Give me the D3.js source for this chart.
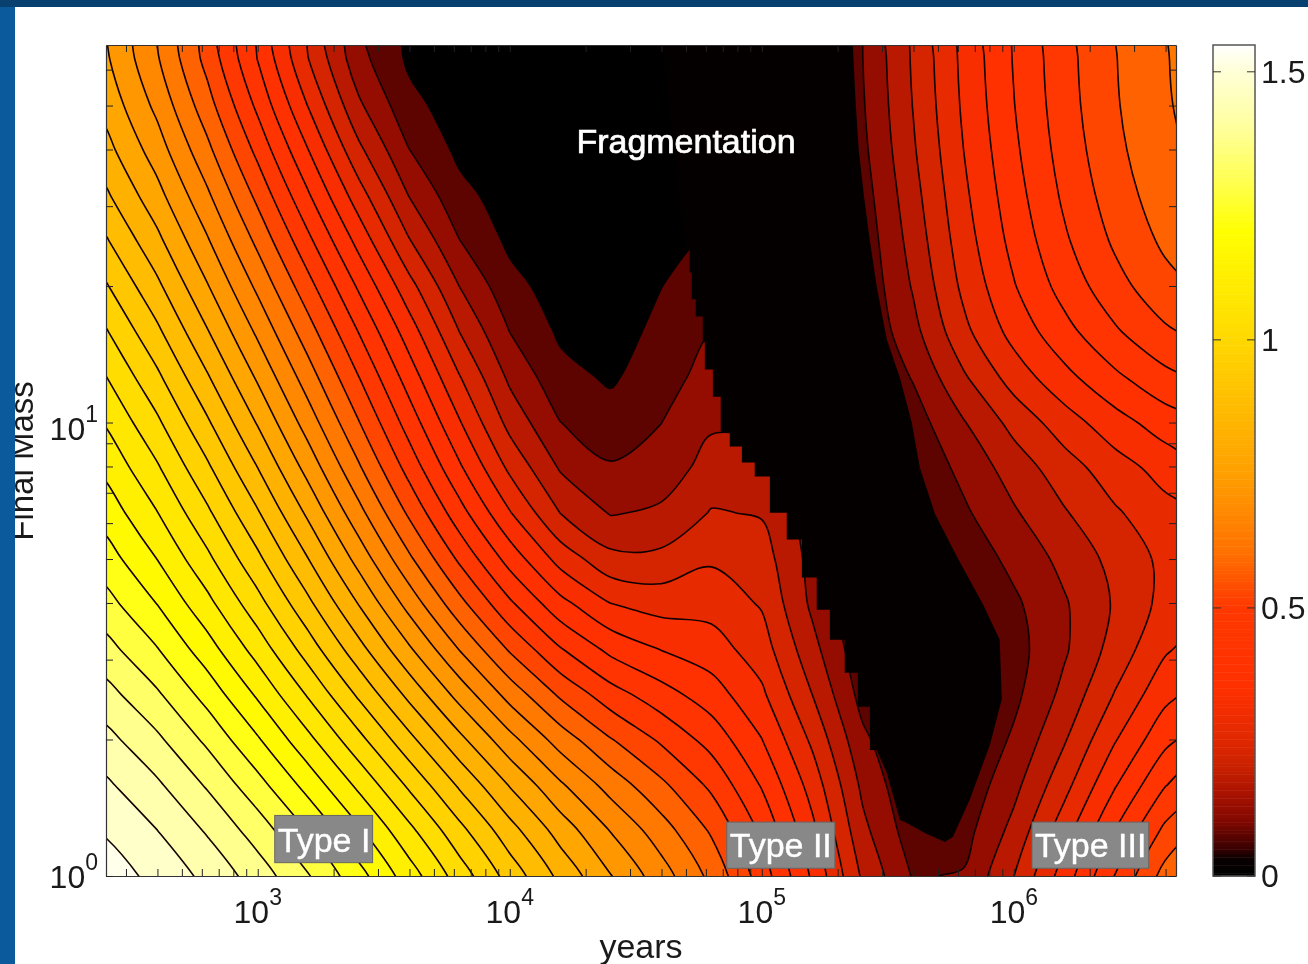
<!DOCTYPE html>
<html>
<head>
<meta charset="utf-8">
<script src="https://cdn.jsdelivr.net/npm/d3@7"></script>
<style>
  html, body { margin: 0; padding: 0; background: #fff; overflow: hidden; }
  text { font-family: "Liberation Sans", Arial, sans-serif; fill: #1a1a1a; }
  svg { filter: blur(0.6px); display: block; }
</style>
</head>
<body>
<div id="target"></div>
<script>
// grid of the field: log10(years) along the columns, log10(mass) along the rows (top row first)
const logYears = [2.2, 2.4, 2.6, 2.8, 3.0, 3.2, 3.4, 3.6, 3.8, 4.0, 4.2, 4.4, 4.6, 4.8, 5.0, 5.2, 5.4, 5.6, 5.8, 6.0, 6.2, 6.4, 6.6, 6.8];
const logMass = [1.9, 1.8, 1.7, 1.6, 1.5, 1.4, 1.3, 1.2, 1.1, 1.0, 0.9, 0.8, 0.7, 0.6, 0.5, 0.4, 0.3, 0.2, 0.1, 0.0, -0.1];

const field = [
  [.86,.75,.62,.50,.36,.20,.07,.01,.01,.01,.02,.02,.02,.02,.02,.02,.08,.21,.325,.42,.49,.555,.605,.65],
  [.88,.77,.665,.537,.40,.24,.085,.01,.01,.01,.02,.02,.02,.02,.02,.02,.08,.21,.325,.42,.495,.56,.61,.66],
  [.89,.79,.70,.576,.44,.285,.14,.04,.01,.01,.02,.02,.02,.02,.02,.02,.073,.205,.32,.415,.49,.56,.61,.66],
  [.92,.815,.74,.63,.495,.35,.20,.08,.01,.01,.02,.02,.02,.02,.02,.02,.065,.20,.31,.405,.48,.555,.60,.65],
  [.96,.86,.78,.675,.54,.415,.265,.13,.05,.01,.02,.02,.02,.02,.02,.02,.045,.185,.30,.39,.465,.545,.59,.64],
  [1.02,.915,.82,.715,.59,.47,.33,.19,.08,.01,.01,.02,.02,.10,.02,.02,.03,.175,.29,.38,.455,.52,.575,.63],
  [1.08,.97,.865,.755,.64,.525,.40,.265,.14,.05,.01,.01,.04,.12,.02,.02,.025,.155,.275,.365,.435,.48,.55,.61],
  [1.13,1.02,.91,.805,.695,.58,.465,.335,.185,.08,.02,.01,.055,.125,.10,.02,.02,.135,.26,.35,.42,.47,.52,.58],
  [1.17,1.065,.97,.86,.745,.62,.50,.38,.25,.125,.05,.0,.075,.145,.14,.02,.02,.09,.195,.29,.34,.40,.45,.50],
  [1.20,1.11,1.03,.91,.80,.675,.55,.43,.305,.16,.08,.045,.09,.165,.18,.03,.02,.055,.145,.21,.27,.32,.37,.42],
  [1.23,1.145,1.08,.965,.855,.74,.60,.475,.35,.23,.12,.085,.11,.18,.19,.12,.02,.04,.11,.17,.22,.27,.31,.35],
  [1.28,1.185,1.112,1.02,.915,.805,.65,.52,.405,.29,.175,.105,.125,.235,.22,.13,.02,.03,.10,.145,.20,.25,.285,.31],
  [1.31,1.22,1.155,1.065,.97,.865,.745,.605,.48,.365,.26,.18,.185,.28,.27,.13,.02,.02,.055,.115,.16,.205,.26,.29],
  [1.35,1.27,1.215,1.115,1.02,.915,.80,.68,.56,.45,.35,.285,.25,.32,.29,.10,.02,.02,.03,.085,.135,.195,.26,.31],
  [1.39,1.325,1.27,1.185,1.075,.975,.86,.75,.64,.525,.41,.345,.33,.34,.32,.16,.03,.02,.02,.07,.125,.21,.30,.36],
  [1.44,1.38,1.31,1.25,1.15,1.045,.945,.845,.73,.64,.525,.455,.40,.385,.35,.20,.03,.02,.02,.07,.16,.245,.345,.43],
  [1.48,1.445,1.375,1.295,1.22,1.12,1.02,.92,.815,.715,.635,.55,.49,.455,.39,.24,.09,.02,.02,.10,.19,.295,.395,.50],
  [1.52,1.475,1.425,1.36,1.275,1.18,1.09,.995,.895,.79,.705,.625,.56,.50,.45,.295,.115,.02,.035,.135,.22,.34,.45,.58],
  [1.55,1.50,1.465,1.415,1.34,1.26,1.17,1.07,.97,.87,.775,.695,.63,.57,.49,.31,.14,.02,.05,.16,.27,.395,.52,.68],
  [1.58,1.53,1.49,1.44,1.40,1.335,1.24,1.14,1.04,.945,.85,.755,.69,.625,.53,.35,.175,.06,.07,.195,.325,.46,.60,.75],
  [1.60,1.57,1.54,1.50,1.45,1.38,1.30,1.20,1.10,1.00,.90,.80,.73,.66,.55,.38,.20,.07,.09,.23,.38,.52,.66,.80]
];

// levels that get a black line
const lineLevels = [.1, .15, .2, .25, .3, .35, .4, .45, .5, .55, .6, .65, .7, .75, .8, .85, .9, .95, 1, 1.05, 1.1, 1.15, 1.2, 1.25, 1.3, 1.35, 1.4, 1.45, 1.5];

// colormap
const colorValues = [0, .03, .05, .1, .15, .2, .25, .3, .35, .5, .6, .75, 1, 1.2, 1.3, 1.4, 1.5, 1.55];
const colorHex = ["#000000", "#0a0000", "#3a0000", "#800800", "#a81200", "#c82000", "#e02800", "#f02c00", "#ff3000", "#ff3800", "#ff7000", "#ffa000", "#ffd800", "#ffff00", "#ffff55", "#ffffa0", "#ffffd8", "#ffffff"];

// edge of the fragmentation region, stepped on the left
const fragLogYears = [4.595, 4.687, 4.706, 4.714, 4.714, 4.722, 4.722, 4.738, 4.738, 4.766, 4.766, 4.774, 4.774, 4.806, 4.806, 4.837, 4.837, 4.873, 4.873, 4.921, 4.921, 4.972, 4.972, 5.032, 5.032, 5.099, 5.099, 5.159, 5.159, 5.218, 5.218, 5.270, 5.270, 5.329, 5.329, 5.381, 5.381, 5.429, 5.429, 5.456, 5.496, 5.548, 5.575, 5.647, 5.726, 5.758, 5.825, 5.905, 5.952, 5.944, 5.877, 5.778, 5.687, 5.627, 5.595, 5.548, 5.496, 5.456, 5.429, 5.405, 5.385, 5.373, 5.361, 5.36, 4.595];
const fragLogMass = [1.9, 1.426, 1.382, 1.382, 1.331, 1.331, 1.272, 1.272, 1.234, 1.234, 1.177, 1.177, 1.117, 1.117, 1.057, 1.057, .978, .978, .947, .947, .912, .912, .881, .881, .801, .801, .742, .742, .658, .658, .587, .587, .521, .521, .448, .448, .373, .373, .278, .278, .227, .124, .117, .095, .075, .086, .168, .289, .389, .521, .600, .700, .799, .901, 1.0, 1.099, 1.183, 1.300, 1.400, 1.501, 1.600, 1.700, 1.834, 1.9, 1.9];

const xDomain = [250, 4.4e6];
const yDomain = [1, 68];
const xLabelExps = [3, 4, 5, 6];
const yLabelExps = [0, 1];
const yLabelDrop = [12, 17];
const barTicks = [0, .5, 1, 1.5];
const barLabels = ["0", "0.5", "1", "1.5"];
const typeNames = ["Type I", "Type II", "Type III"];
const typeBoxYears = [[1168, 2856], [7.26e4, 1.95e5], [1.18e6, 3.43e6]];
const typeBoxMass = [[1.07, 1.36], [1.04, 1.315], [1.04, 1.315]];

const width = 1308, height = 964;
const plot = { left: 106, right: 1176, top: 45, bottom: 876 };

const svg = d3.select("#target").append("svg")
  .attr("width", width)
  .attr("height", height);

svg.append("rect").attr("width", width).attr("height", height).attr("fill", "#fff");

const x = d3.scaleLog().domain(xDomain).range([plot.left, plot.right]);
const y = d3.scaleLog().domain(yDomain).range([plot.bottom, plot.top]);
const color = d3.scaleLinear().domain(colorValues).range(colorHex).clamp(true);

svg.append("clipPath").attr("id", "plotClip").append("rect")
  .attr("x", plot.left).attr("y", plot.top)
  .attr("width", plot.right - plot.left).attr("height", plot.bottom - plot.top);

const g = svg.append("g").attr("clip-path", "url(#plotClip)");

g.append("rect") // below the lowest level everything is black
  .attr("x", plot.left).attr("y", plot.top)
  .attr("width", plot.right - plot.left).attr("height", plot.bottom - plot.top)
  .attr("fill", "#000");

const nx = logYears.length, ny = logMass.length;
const contours = d3.contours().size([nx, ny]).smooth(true);

// the typed grid has reading noise: blur the bright part more than the dark notches
const soft = Float64Array.from(field.flat());
const light = Float64Array.from(field.flat());
d3.blur2({ data: soft, width: nx }, 0.5);
d3.blur2({ data: light, width: nx }, 0.15);
const mix = d3.scaleLinear().domain([.2, .4]).range([0, 1]).clamp(true);
const flat = light.map((v, i) => v + (soft[i] - v) * mix(v));

// grid coordinates of d3.contours are cell centred, hence the -0.5
const gridX = d3.scaleLinear().domain(d3.range(nx)).range(logYears);
const gridY = d3.scaleLinear().domain(d3.range(ny)).range(logMass);
const line = d3.line()
  .x(p => x(Math.pow(10, gridX(p[0] - 0.5))))
  .y(p => y(Math.pow(10, gridY(p[1] - 0.5))))
  .curve(d3.curveCatmullRomClosed.alpha(0.5));

function contourPath(level) {
  const c = contours.contour(flat, level);
  return c.coordinates.map(poly => poly.map(ring => line(ring.slice(0, -1))).join("")).join("");
}

// flat bands between the levels
const fillLevels = [.05].concat(lineLevels);
g.selectAll("path.band")
  .data(fillLevels)
  .enter()
  .append("path")
  .attr("class", "band")
  .attr("d", d => contourPath(d))
  .attr("fill", d => color(d + 0.025));

g.selectAll("path.level")
  .data(lineLevels)
  .enter()
  .append("path")
  .attr("class", "level")
  .attr("d", d => contourPath(d))
  .attr("fill", "none")
  .attr("stroke", "#120000")
  .attr("stroke-width", 1.6);

// fragmentation region on top, hides the lines behind the stepped edge
g.append("path")
  .attr("d", d3.line()
    .x((d, i) => x(Math.pow(10, fragLogYears[i])))
    .y((d, i) => y(Math.pow(10, fragLogMass[i])))(fragLogYears) + "Z")
  .attr("fill", "#050000");

// axes, ticks inside on all four sides
const axisStyle = sel => {
  sel.selectAll("path").attr("stroke", "#333").attr("stroke-width", 1.2);
  sel.selectAll("line").attr("stroke", "#222").attr("stroke-width", 1);
  sel.selectAll("text").remove();
};
svg.append("g").attr("transform", `translate(0,${plot.bottom})`)
  .call(d3.axisBottom(x).tickSizeInner(-7).tickSizeOuter(0).tickValues(x.ticks())).call(axisStyle);
svg.append("g").attr("transform", `translate(0,${plot.top})`)
  .call(d3.axisTop(x).tickSizeInner(-7).tickSizeOuter(0).tickValues(x.ticks())).call(axisStyle);
svg.append("g").attr("transform", `translate(${plot.left},0)`)
  .call(d3.axisLeft(y).tickSizeInner(-7).tickSizeOuter(0).tickValues(y.ticks())).call(axisStyle);
svg.append("g").attr("transform", `translate(${plot.right},0)`)
  .call(d3.axisRight(y).tickSizeInner(-7).tickSizeOuter(0).tickValues(y.ticks())).call(axisStyle);

// tick labels
xLabelExps.forEach(e => {
  const t = svg.append("text")
    .attr("x", x(Math.pow(10, e))).attr("y", 923)
    .attr("text-anchor", "middle").attr("font-size", 32).text("10");
  t.append("tspan").attr("dy", -18).attr("font-size", 23).text(e);
});
yLabelExps.forEach((e, i) => {
  const t = svg.append("text")
    .attr("x", 98).attr("y", y(Math.pow(10, e)) + yLabelDrop[i])
    .attr("text-anchor", "end").attr("font-size", 32).text("10");
  t.append("tspan").attr("dy", -18).attr("font-size", 23).text(e);
});

svg.append("text") // x axis label
  .attr("x", 641).attr("y", 958)
  .attr("text-anchor", "middle").attr("font-size", 34).text("years");

svg.append("text") // y axis label
  .attr("transform", "translate(33,461) rotate(-90)")
  .attr("text-anchor", "middle").attr("font-size", 33).text("Final Mass");

svg.append("text")
  .attr("x", 686).attr("y", 153)
  .attr("text-anchor", "middle").attr("font-size", 34)
  .style("fill", "#fff").style("stroke", "#fff").style("stroke-width", 0.7)
  .text("Fragmentation");

// grey labels
typeNames.forEach((name, i) => {
  const bx = typeBoxYears[i], by = typeBoxMass[i];
  svg.append("rect")
    .attr("x", x(bx[0])).attr("y", y(by[1]))
    .attr("width", x(bx[1]) - x(bx[0])).attr("height", y(by[0]) - y(by[1]))
    .attr("fill", "#888").attr("stroke", "#666").attr("stroke-width", 1);
  svg.append("text")
    .attr("x", x(bx[0]) + 3).attr("y", y(by[0]) - 11)
    .attr("font-size", 34)
    .style("fill", "#fff").style("stroke", "#fff").style("stroke-width", 0.4)
    .text(name);
});

// colorbar
const bar = { left: 1213, right: 1255 };
const barY = d3.scaleLinear().domain([0, 1.55]).range([plot.bottom, plot.top]);
svg.selectAll("rect.cb")
  .data(d3.range(0, 310).map(d => d / 200))
  .enter()
  .append("rect")
  .attr("class", "cb")
  .attr("x", bar.left)
  .attr("width", bar.right - bar.left)
  .attr("y", d => barY(d + 0.005))
  .attr("height", d => barY(d) - barY(d + 0.005) + 0.5)
  .attr("fill", d => color(d));
svg.append("rect")
  .attr("x", bar.left).attr("y", plot.top)
  .attr("width", bar.right - bar.left).attr("height", plot.bottom - plot.top)
  .attr("fill", "none").attr("stroke", "#555").attr("stroke-width", 1.5);
barTicks.forEach((v, i) => {
  [[bar.left, bar.left + 8], [bar.right - 8, bar.right]].forEach(e => {
    svg.append("line")
      .attr("x1", e[0]).attr("x2", e[1])
      .attr("y1", barY(v)).attr("y2", barY(v))
      .attr("stroke", "#333").attr("stroke-width", 1);
  });
  svg.append("text")
    .attr("x", 1261).attr("y", barY(v) + 11)
    .attr("font-size", 32).text(barLabels[i]);
});

// slide background showing at the left and top
svg.append("rect").attr("width", 15).attr("height", height).attr("fill", "#0b5a9c");
svg.append("rect").attr("width", width).attr("height", 7).attr("fill", "#084170");
</script>
</body>
</html>
